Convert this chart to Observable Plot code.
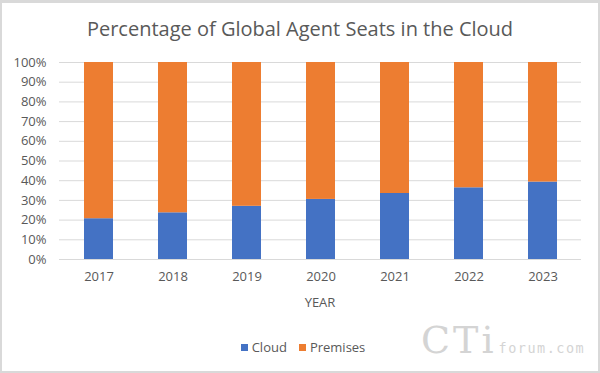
<!DOCTYPE html>
<html>
<head>
<meta charset="utf-8">
<script src="https://cdn.jsdelivr.net/npm/d3@7"></script>
<script src="https://cdn.jsdelivr.net/npm/@observablehq/plot@0.6"></script>
<style>
  html, body { margin: 0; padding: 0; background: #fff; }
  #wrap { position: relative; width: 600px; height: 373px; overflow: hidden; font-family: "Open Sans", "Noto Sans", sans-serif; color: #595959; }
  #frame { position: absolute; left: 0; top: 0; width: 600px; height: 373px; box-sizing: border-box; border: 2px solid #d9d9d9; border-top-width: 3px; pointer-events: none; }
  #title { position: absolute; left: 0; width: 600px; top: 14px; text-align: center; font-size: 20px; line-height: 30px; color: #595959; }
  #xlabel { position: absolute; left: 260px; width: 120px; top: 292px; text-align: center; font-size: 13px; line-height: 20px; }
  #legend { position: absolute; left: 0; width: 606px; top: 337px; display: flex; justify-content: center; align-items: center; font-size: 13px; line-height: 20px; }
  #legend .sw { display: inline-block; width: 7px; height: 7px; margin-right: 4px; }
  #legend .item { display: flex; align-items: center; margin: 0 6px; }
  #wm { position: absolute; left: 421px; top: 318px; color: #d4d4d4; white-space: nowrap; }
  #wm .big { font-family: "DejaVu Serif", "Liberation Serif", serif; font-size: 38px; font-weight: 200; letter-spacing: 3px; }
  #wm .small { font-family: "DejaVu Sans Mono", monospace; font-size: 13.5px; letter-spacing: 1.5px; margin-left: 2px; }
  #chart { position: absolute; left: 0; top: 0; }
</style>
</head>
<body>
<div id="wrap">
  <div id="chart"></div>
  <div id="title">Percentage of Global Agent Seats in the Cloud</div>
  <div id="xlabel">YEAR</div>
  <div id="legend"></div>
  <div id="wm"><span class="big">CTi</span><span class="small">forum.com</span></div>
  <div id="frame"></div>
</div>
<script>
const years = ["2017", "2018", "2019", "2020", "2021", "2022", "2023"];
const cloud = [20.7, 23.7, 27.0, 30.5, 33.5, 36.4, 39.3];
const premises = cloud.map(v => 100 - v);
const seriesNames = ["Cloud", "Premises"];
const seriesColors = ["#4472C4", "#ED7D31"];
const yTicks = [0, 10, 20, 30, 40, 50, 60, 70, 80, 90, 100];

const rows = [];
years.forEach((y, i) => {
  rows.push({year: y, series: "Cloud", value: cloud[i]});
  rows.push({year: y, series: "Premises", value: premises[i]});
});

const chart = Plot.plot({
  width: 600,
  height: 373,
  marginTop: 62,
  marginBottom: 114,
  marginLeft: 59,
  marginRight: 19,
  style: {fontFamily: '"Open Sans", "Noto Sans", sans-serif', fontSize: "13px", color: "#595959", background: "transparent"},
  x: {domain: years, paddingInner: 0.61, paddingOuter: 0.305, label: null, tickSize: 0, tickPadding: 12},
  y: {domain: [0, 100], ticks: yTicks, tickFormat: d => d + "%", label: null, tickSize: 0, tickPadding: 13},
  color: {domain: seriesNames, range: seriesColors},
  marks: [
    Plot.ruleY(yTicks, {stroke: "#d9d9d9", strokeWidth: 1}),
    Plot.barY(rows, {x: "year", y: "value", fill: "series", order: seriesNames}),
  ]
});
document.getElementById("chart").appendChild(chart);

const legend = document.getElementById("legend");
seriesNames.forEach((name, i) => {
  const item = document.createElement("div");
  item.className = "item";
  const sw = document.createElement("span");
  sw.className = "sw";
  sw.style.background = seriesColors[i];
  const t = document.createElement("span");
  t.textContent = name;
  item.appendChild(sw);
  item.appendChild(t);
  legend.appendChild(item);
});
</script>
</body>
</html>
